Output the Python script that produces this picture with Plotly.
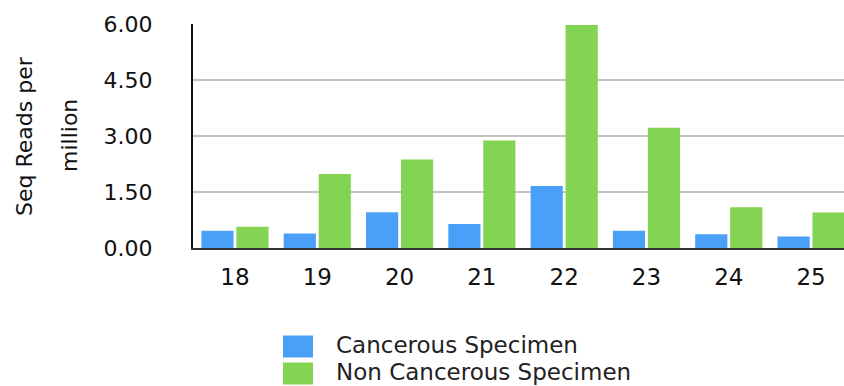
import plotly.graph_objects as go

# Read-length categories (nt) and normalised read counts
lengths = ["18", "19", "20", "21", "22", "23", "24", "25"]
cancerous = [0.46, 0.39, 0.96, 0.64, 1.66, 0.46, 0.37, 0.31]
non_cancerous = [0.57, 1.98, 2.37, 2.88, 5.97, 3.22, 1.09, 0.95]
y_ticks = [0, 1.5, 3.0, 4.5, 6.0]
y_tick_text = ["0.00", "1.50", "3.00", "4.50", "6.00"]

series_names = ["Cancerous Specimen", "Non Cancerous Specimen"]
colors = ["#4AA0F7", "#82D452"]

FONT = "DejaVu Sans"
W, H = 844, 386
ML, MR, MT, MB = 193, 0, 24, 138

fig = go.Figure()
for name, vals, col in zip(series_names, [cancerous, non_cancerous], colors):
    fig.add_trace(go.Bar(
        x=lengths, y=vals, name=name,
        marker=dict(color=col, line=dict(width=0)),
        showlegend=False,
    ))

fig.update_layout(
    width=W, height=H,
    margin=dict(l=ML, r=MR, t=MT, b=MB, pad=0),
    paper_bgcolor="white", plot_bgcolor="white",
    barmode="group", bargap=0.15, bargroupgap=0.08,
    font=dict(family=FONT, color="#111111"),
)

fig.update_xaxes(
    type="category", range=[-0.51, 7.4],
    showgrid=False, showline=True, linecolor="#333333", linewidth=2,
    ticks="", tickfont=dict(family=FONT, size=23, color="#111111"),
    ticklabelstandoff=7,
)
fig.update_yaxes(
    range=[0, 6], tickvals=y_ticks, ticktext=y_tick_text,
    showgrid=True, gridcolor="#c4c4c4", gridwidth=2,
    zeroline=False, showline=True, linecolor="#111111", linewidth=2,
    ticks="", tickfont=dict(family=FONT, size=22, color="#111111"),
    ticklabelstandoff=34,
)

plot_w = W - ML - MR
plot_h = H - MT - MB

def px_x(x):
    return (x - ML) / plot_w

def px_y(y):
    return (H - MB - y) / plot_h

# Axis title, two stacked lines
for line, xc in (("Seq Reads per", 24), ("million", 69)):
    fig.add_annotation(
        x=px_x(xc), y=px_y(136), xref="paper", yref="paper",
        text=line, textangle=-90, showarrow=False,
        font=dict(family=FONT, size=22, color="#111111"),
        xanchor="center", yanchor="middle",
    )

# Legend swatches and labels
legend_rows = [346.5, 373.5]
for name, col, yc in zip(series_names, colors, legend_rows):
    fig.add_shape(
        type="rect", xref="paper", yref="paper",
        x0=px_x(283), x1=px_x(313), y0=px_y(yc - 11), y1=px_y(yc + 11),
        fillcolor=col, line=dict(width=0),
    )
    fig.add_annotation(
        x=px_x(334), y=px_y(yc - 1.5), xref="paper", yref="paper",
        text=name, showarrow=False, xanchor="left", yanchor="middle",
        font=dict(family=FONT, size=23, color="#222222"),
    )

fig.write_html("out.html")
